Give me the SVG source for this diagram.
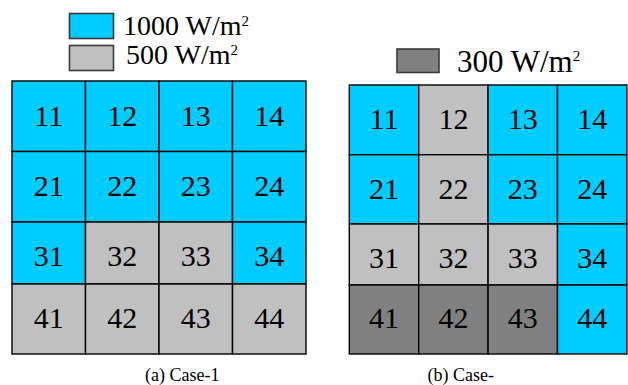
<svg xmlns="http://www.w3.org/2000/svg" width="628" height="385" viewBox="0 0 628 385">
  <style>
    .hi { fill: #00CCFF; }
    .mid { fill: #C0C0C0; }
    .lo { fill: #808080; }
    .cell { stroke: #000; stroke-width: 1.4; }
    .key { stroke: #3a3a3a; stroke-width: 1.6; }
    text { font-family: "Liberation Serif", "Times New Roman", serif; fill: #000; }
    .num { font-size: 30px; text-anchor: middle; }
    .leg { font-size: 28px; }
    .leg2 { font-size: 31px; }
    .sup { font-size: 15px; }
    .cap { font-size: 18px; }
  </style>
  <rect width="628" height="385" fill="#fff"/>

  <!-- legend, case 1 -->
  <g id="legend-1000">
    <rect class="hi key" x="69.5" y="13.5" width="44" height="25"/>
    <text class="leg" x="123" y="35">1000 W/m<tspan class="sup" dy="-9.5">2</tspan></text>
  </g>
  <g id="legend-500">
    <rect class="mid key" x="69.5" y="45.5" width="44" height="25"/>
    <text class="leg" x="126" y="64">500 W/m<tspan class="sup" dy="-9.5">2</tspan></text>
  </g>

  <!-- legend, case 2 -->
  <g id="legend-300">
    <rect class="lo key" x="397" y="49" width="42" height="23.5"/>
    <text class="leg2" x="457" y="71.7">300 W/m<tspan class="sup" dy="-11">2</tspan></text>
  </g>

  <!-- case 1 panel grid: columns 12 / 85.5 / 159 / 232.5 / 306 ; rows 81 / 151.5 / 222 / 284 / 354 -->
  <g id="case1">
    <g id="c1-11"><rect class="hi cell" x="12" y="81" width="73.5" height="70.5"/><text class="num" x="48.7" y="126">11</text></g>
    <g id="c1-12"><rect class="hi cell" x="85.5" y="81" width="73.5" height="70.5"/><text class="num" x="122.2" y="126">12</text></g>
    <g id="c1-13"><rect class="hi cell" x="159" y="81" width="73.5" height="70.5"/><text class="num" x="195.7" y="126">13</text></g>
    <g id="c1-14"><rect class="hi cell" x="232.5" y="81" width="73.5" height="70.5"/><text class="num" x="269.2" y="126">14</text></g>

    <g id="c1-21"><rect class="hi cell" x="12" y="151.5" width="73.5" height="70.5"/><text class="num" x="48.7" y="196">21</text></g>
    <g id="c1-22"><rect class="hi cell" x="85.5" y="151.5" width="73.5" height="70.5"/><text class="num" x="122.2" y="196">22</text></g>
    <g id="c1-23"><rect class="hi cell" x="159" y="151.5" width="73.5" height="70.5"/><text class="num" x="195.7" y="196">23</text></g>
    <g id="c1-24"><rect class="hi cell" x="232.5" y="151.5" width="73.5" height="70.5"/><text class="num" x="269.2" y="196">24</text></g>

    <g id="c1-31"><rect class="hi cell" x="12" y="222" width="73.5" height="62"/><text class="num" x="48.7" y="265.7">31</text></g>
    <g id="c1-32"><rect class="mid cell" x="85.5" y="222" width="73.5" height="62"/><text class="num" x="122.2" y="265.7">32</text></g>
    <g id="c1-33"><rect class="mid cell" x="159" y="222" width="73.5" height="62"/><text class="num" x="195.7" y="265.7">33</text></g>
    <g id="c1-34"><rect class="hi cell" x="232.5" y="222" width="73.5" height="62"/><text class="num" x="269.2" y="265.7">34</text></g>

    <g id="c1-41"><rect class="mid cell" x="12" y="284" width="73.5" height="70"/><text class="num" x="48.7" y="328.3">41</text></g>
    <g id="c1-42"><rect class="mid cell" x="85.5" y="284" width="73.5" height="70"/><text class="num" x="122.2" y="328.3">42</text></g>
    <g id="c1-43"><rect class="mid cell" x="159" y="284" width="73.5" height="70"/><text class="num" x="195.7" y="328.3">43</text></g>
    <g id="c1-44"><rect class="mid cell" x="232.5" y="284" width="73.5" height="70"/><text class="num" x="269.2" y="328.3">44</text></g>
  </g>

  <!-- case 2 panel grid: columns 349.3 / 418.7 / 488.1 / 557.5 / 627 ; rows 85 / 154.7 / 224 / 285 / 354 -->
  <g id="case2">
    <g id="c2-11"><rect class="hi cell" x="349.3" y="85" width="69.4" height="69.7"/><text class="num" x="384" y="129">11</text></g>
    <g id="c2-12"><rect class="mid cell" x="418.7" y="85" width="69.4" height="69.7"/><text class="num" x="453.4" y="129">12</text></g>
    <g id="c2-13"><rect class="hi cell" x="488.1" y="85" width="69.4" height="69.7"/><text class="num" x="522.8" y="129">13</text></g>
    <g id="c2-14"><rect class="hi cell" x="557.5" y="85" width="69.4" height="69.7"/><text class="num" x="592.2" y="129">14</text></g>

    <g id="c2-21"><rect class="hi cell" x="349.3" y="154.7" width="69.4" height="69.3"/><text class="num" x="384" y="198.5">21</text></g>
    <g id="c2-22"><rect class="mid cell" x="418.7" y="154.7" width="69.4" height="69.3"/><text class="num" x="453.4" y="198.5">22</text></g>
    <g id="c2-23"><rect class="hi cell" x="488.1" y="154.7" width="69.4" height="69.3"/><text class="num" x="522.8" y="198.5">23</text></g>
    <g id="c2-24"><rect class="hi cell" x="557.5" y="154.7" width="69.4" height="69.3"/><text class="num" x="592.2" y="198.5">24</text></g>

    <g id="c2-31"><rect class="mid cell" x="349.3" y="224" width="69.4" height="61"/><text class="num" x="384" y="267.7">31</text></g>
    <g id="c2-32"><rect class="mid cell" x="418.7" y="224" width="69.4" height="61"/><text class="num" x="453.4" y="267.7">32</text></g>
    <g id="c2-33"><rect class="mid cell" x="488.1" y="224" width="69.4" height="61"/><text class="num" x="522.8" y="267.7">33</text></g>
    <g id="c2-34"><rect class="hi cell" x="557.5" y="224" width="69.4" height="61"/><text class="num" x="592.2" y="267.7">34</text></g>

    <g id="c2-41"><rect class="lo cell" x="349.3" y="285" width="69.4" height="69"/><text class="num" x="384" y="328.3">41</text></g>
    <g id="c2-42"><rect class="lo cell" x="418.7" y="285" width="69.4" height="69"/><text class="num" x="453.4" y="328.3">42</text></g>
    <g id="c2-43"><rect class="lo cell" x="488.1" y="285" width="69.4" height="69"/><text class="num" x="522.8" y="328.3">43</text></g>
    <g id="c2-44"><rect class="hi cell" x="557.5" y="285" width="69.4" height="69"/><text class="num" x="592.2" y="328.3">44</text></g>
  </g>

  <!-- captions -->
  <text class="cap" x="145" y="381">(a) Case-1</text>
  <text class="cap" x="427.5" y="381">(b) Case-</text>
</svg>
